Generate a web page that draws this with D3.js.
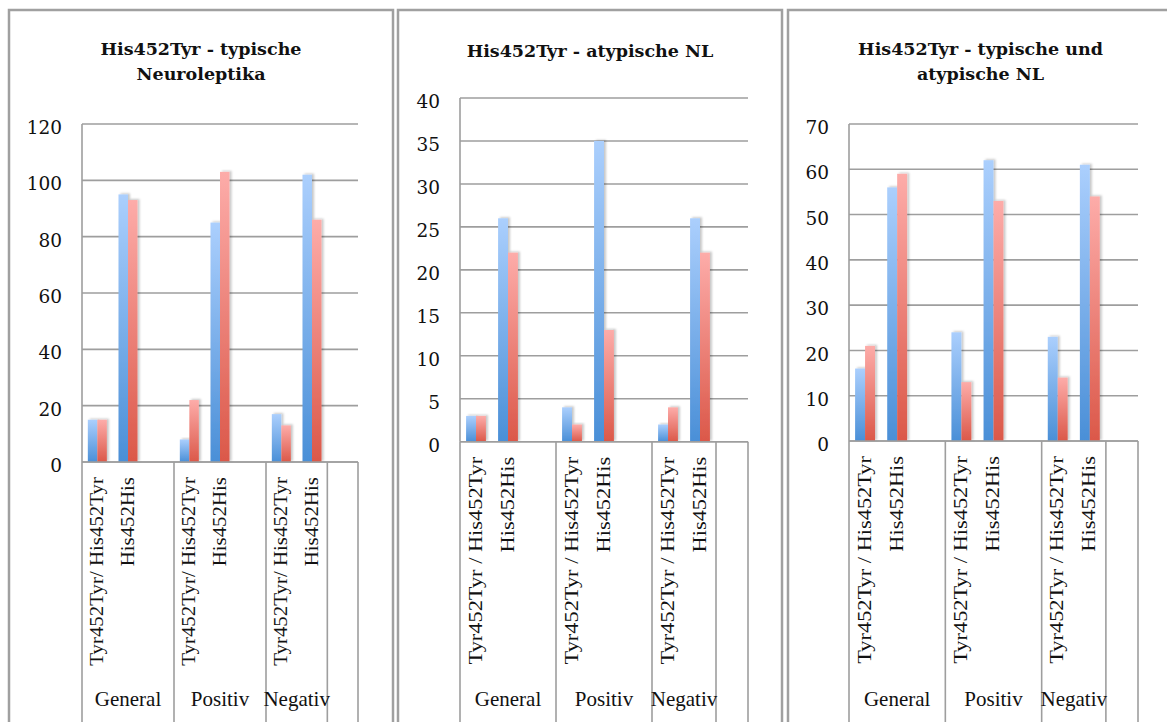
<!DOCTYPE html>
<html>
<head>
<meta charset="utf-8">
<script src="https://cdn.jsdelivr.net/npm/d3@7"></script>
<style>
  html, body { margin: 0; padding: 0; background: #fff; }
  svg { display: block; }
</style>
</head>
<body>
<svg id="chart" width="1167" height="722"></svg>
<script>
// Outer category groups; the last one is an empty trailing group
const groups = ["General", "Positiv", "Negativ", ""];
// Number of category slots in each outer group (third slot of each group is empty)
const slotsPerGroup = [3, 3, 2, 1];

// Inner category labels (two genotype classes per group)
const genotypesA = ["Tyr452Tyr/ His452Tyr", "His452His"];
const genotypesB = ["Tyr452Tyr / His452Tyr", "His452His"];

// Panel titles
const titleTyp = ["His452Tyr - typische", "Neuroleptika"];
const titleAtyp = ["His452Tyr - atypische NL"];
const titleBoth = ["His452Tyr - typische und", "atypische NL"];

// Values per group: [General Tyr/His, General His/His, Positiv Tyr/His, Positiv His/His, Negativ Tyr/His, Negativ His/His]
const typBlue = [15, 95, 8, 85, 17, 102];
const typRed = [15, 93, 22, 103, 13, 86];
const atypBlue = [3, 26, 4, 35, 2, 26];
const atypRed = [3, 22, 2, 13, 4, 22];
const bothBlue = [16, 56, 24, 62, 23, 61];
const bothRed = [21, 59, 13, 53, 14, 54];

// Y-axis tick values
const typTicks = [0, 20, 40, 60, 80, 100, 120];
const atypTicks = [0, 5, 10, 15, 20, 25, 30, 35, 40];
const bothTicks = [0, 10, 20, 30, 40, 50, 60, 70];

const svg = d3.select("#chart");
const defs = svg.append("defs");

function gradient(id, top, bottom) {
  const g = defs.append("linearGradient").attr("id", id)
    .attr("x1", 0).attr("y1", 0).attr("x2", 0).attr("y2", 1);
  g.append("stop").attr("offset", "0%").attr("stop-color", top);
  g.append("stop").attr("offset", "100%").attr("stop-color", bottom);
}
gradient("gBlue", "#abcffd", "#4a8fd7");
gradient("gRed", "#fdaca9", "#db5849");

const shadow = defs.append("filter").attr("id", "barShadow")
  .attr("x", "-50%").attr("y", "-10%").attr("width", "200%").attr("height", "120%");
shadow.append("feDropShadow").attr("dx", 2).attr("dy", -1)
  .attr("stdDeviation", 1.3).attr("flood-color", "#000").attr("flood-opacity", 0.22);

const gridColor = "#9e9e9e";
const serif = "'DejaVu Serif', 'Liberation Serif', serif";
const times = "'Liberation Serif', 'Times New Roman', serif";

const panels = [
  { frame: [9, 393], left: 82, right: 358, zero: 462, top: 124, ticks: typTicks,
    title: titleTyp, titleY: 55, labels: genotypesA, labelStretch: 1.13,
    blue: typBlue, red: typRed },
  { frame: [398, 782], left: 460, right: 748, zero: 441.7, top: 98, ticks: atypTicks,
    title: titleAtyp, titleY: 56.5, labels: genotypesB, labelStretch: 1.21,
    blue: atypBlue, red: atypRed },
  { frame: [788, 1173], left: 849, right: 1138, zero: 441, top: 124, ticks: bothTicks,
    title: titleBoth, titleY: 55, labels: genotypesB, labelStretch: 1.21,
    blue: bothBlue, red: bothRed }
];

// Build the flat list of category slots
const slots = [];
groups.forEach((g, gi) => {
  for (let s = 0; s < slotsPerGroup[gi]; s++) slots.push({ group: g, gi, s, key: gi + "-" + s });
});

panels.forEach(p => {
  const g = svg.append("g");

  // Panel frame
  g.append("rect")
    .attr("x", p.frame[0]).attr("y", 10)
    .attr("width", p.frame[1] - p.frame[0]).attr("height", 740)
    .attr("fill", "#fff").attr("stroke", "#a0a0a0").attr("stroke-width", 2.5);

  // Title
  const cx = (p.frame[0] + p.frame[1]) / 2;
  g.append("text")
    .attr("x", cx).attr("y", p.titleY)
    .attr("text-anchor", "middle")
    .attr("font-family", serif).attr("font-weight", "bold").attr("font-size", 17.5)
    .attr("fill", "#111")
    .selectAll("tspan").data(p.title).join("tspan")
    .attr("x", cx).attr("dy", (d, i) => i === 0 ? 0 : 24.5)
    .text(d => d);

  const yMax = d3.max(p.ticks);
  const y = d3.scaleLinear().domain([0, yMax]).range([p.zero, p.top]);
  const x = d3.scaleBand().domain(slots.map(d => d.key)).range([p.left, p.right]).padding(0);
  const bw = x.bandwidth() * 0.31;

  // Horizontal gridlines
  g.append("g").selectAll("line").data(p.ticks).join("line")
    .attr("x1", p.left).attr("x2", p.right)
    .attr("y1", d => y(d)).attr("y2", d => y(d))
    .attr("stroke", gridColor).attr("stroke-width", 1.6);

  // Y axis with tick labels
  const yAxis = d3.axisLeft(y).tickValues(p.ticks).tickSize(0).tickPadding(20);
  const ya = g.append("g").attr("transform", `translate(${p.left},0)`).call(yAxis);
  ya.select(".domain").attr("stroke", gridColor).attr("stroke-width", 1.6)
    .attr("d", `M0,${p.zero}V${p.top}`);
  ya.selectAll("text")
    .attr("font-family", serif).attr("font-size", 18.5).attr("fill", "#111")
    .attr("dy", "0.52em");

  // Bars
  const barData = [];
  slots.forEach(sl => {
    if (sl.gi < 3 && sl.s < 2) {
      const idx = sl.gi * 2 + sl.s;
      barData.push({ key: sl.key, v: p.blue[idx], side: 0 });
      barData.push({ key: sl.key, v: p.red[idx], side: 1 });
    }
  });
  g.append("g").selectAll("rect").data(barData).join("rect")
    .attr("x", d => x(d.key) + x.bandwidth() / 2 - bw + d.side * bw)
    .attr("y", d => y(d.v))
    .attr("width", bw)
    .attr("height", d => y(0) - y(d.v))
    .attr("fill", d => d.side === 0 ? "url(#gBlue)" : "url(#gRed)")
    .attr("filter", "url(#barShadow)");

  // Baseline redrawn on top of the bars
  g.append("line")
    .attr("x1", p.left).attr("x2", p.right).attr("y1", p.zero).attr("y2", p.zero)
    .attr("stroke", gridColor).attr("stroke-width", 1.6);

  // Group dividers for the two-level category axis
  const bounds = [];
  let acc = 0;
  slotsPerGroup.forEach(n => { bounds.push(x(slots[acc].key)); acc += n; });
  bounds.push(p.right);
  g.append("g").selectAll("line").data(bounds).join("line")
    .attr("x1", d => d).attr("x2", d => d)
    .attr("y1", p.zero).attr("y2", 722)
    .attr("stroke", gridColor).attr("stroke-width", 1.6);

  // Inner (rotated) genotype labels
  const inner = slots.filter(sl => sl.gi < 3 && sl.s < 2);
  g.append("g").selectAll("text").data(inner).join("text")
    .attr("transform", d => `translate(${x(d.key) + x.bandwidth() / 2},${p.zero + 15}) rotate(-90) scale(${p.labelStretch},1)`)
    .attr("dy", 5.5)
    .attr("text-anchor", "end")
    .attr("font-family", times).attr("font-size", 18.5).attr("fill", "#111")
    .text(d => p.labels[d.s]);

  // Outer group labels
  const outer = groups.map((name, gi) => ({ name, x0: bounds[gi], x1: bounds[gi + 1] }))
    .filter(d => d.name !== "");
  g.append("g").selectAll("text").data(outer).join("text")
    .attr("x", d => (d.x0 + d.x1) / 2).attr("y", 706)
    .attr("text-anchor", "middle")
    .attr("font-family", times).attr("font-size", 21).attr("fill", "#111")
    .text(d => d.name);
});
</script>
</body>
</html>
